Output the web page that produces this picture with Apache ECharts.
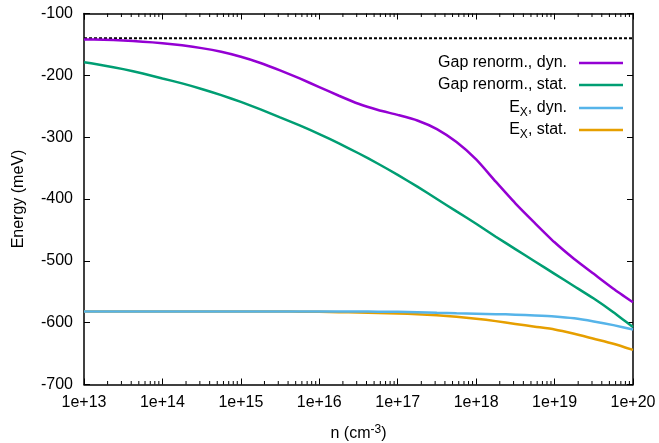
<!DOCTYPE html>
<html>
<head>
<meta charset="utf-8">
<script src="https://cdn.jsdelivr.net/npm/echarts@6/dist/echarts.min.js"></script>
<style>
html,body{margin:0;padding:0;background:#fff;}
#chart{width:659px;height:443px;}
</style>
</head>
<body>
<div id="chart"></div>
<script>
// density n (cm^-3), quarter-decade sampling
const densities = [1e13, 1.78e13, 3.16e13, 5.62e13, 1e14, 1.78e14, 3.16e14, 5.62e14,
  1e15, 1.78e15, 3.16e15, 5.62e15, 1e16, 1.78e16, 3.16e16, 5.62e16,
  1e17, 1.78e17, 3.16e17, 5.62e17, 1e18, 1.78e18, 3.16e18, 5.62e18,
  1e19, 1.78e19, 3.16e19, 5.62e19, 1e20];
const gapDyn = [-142, -142.5, -143.5, -145.5, -148, -151.5, -156, -162,
  -170, -180, -192, -205, -219, -233, -246, -256,
  -264, -273, -287, -308, -336, -372, -407, -439,
  -470, -497, -521, -545, -567];
const gapStat = [-179, -184, -190, -197, -205, -213, -222, -232,
  -243, -255, -268, -281, -295, -310, -326, -343,
  -361, -380, -400, -420, -440, -461, -481, -501,
  -521, -541, -561, -583, -607];
const exDyn = [-582, -582, -582, -582, -582, -582, -582, -582,
  -582, -582, -582, -582, -582, -582, -582, -582.2,
  -582.5, -583, -584, -584.8, -585.5, -586.2, -587, -588.3,
  -590, -593, -598, -604, -611];
const exStat = [-582, -582, -582, -582, -582, -582, -582, -582,
  -582, -582, -582, -582.2, -582.5, -583, -583.5, -584.2,
  -585, -586.3, -588, -590.5, -593.5, -597.5, -602, -606.5,
  -611, -618, -626, -634, -644];
const referenceLevel = -140;
const xTickLabels = ['1e+13', '1e+14', '1e+15', '1e+16', '1e+17', '1e+18', '1e+19', '1e+20'];
const yTicks = [-700, -600, -500, -400, -300, -200, -100];
const minorTickValues = [];
[13,14,15,16,17,18,19].forEach(function(d){
  [2,3,4,5,6,7,8,9].forEach(function(m){ minorTickValues.push(m * Math.pow(10, d)); });
});
const seriesNames = ['Gap renorm., dyn.', 'Gap renorm., stat.', 'E_X, dyn.', 'E_X, stat.'];
const seriesColors = ['#9400d3', '#009e73', '#56b4e9', '#e69f00'];
const seriesValues = [gapDyn, gapStat, exDyn, exStat];

const FONT = 'Liberation Sans, Arial, Helvetica, sans-serif';
const chart = echarts.init(document.getElementById('chart'), null, {renderer: 'canvas'});

function pairs(vals){ return densities.map(function(n, i){ return [n, vals[i]]; }); }

const series = [];
series.push({
  type: 'line', name: 'ref', data: [[densities[0], referenceLevel], [densities[densities.length-1], referenceLevel]],
  symbol: 'none', silent: true, z: 3,
  lineStyle: {color: '#000', width: 2, type: [3, 2]}
});
seriesNames.forEach(function(name, i){
  series.push({
    type: 'line', name: name, data: pairs(seriesValues[i]), symbol: 'none', smooth: 0.2,
    lineStyle: {color: seriesColors[i], width: 2.5}, itemStyle: {color: seriesColors[i]}, z: 4 + (3 - i)
  });
});
series.push({
  type: 'custom', silent: true, z: 10,
  data: minorTickValues.map(function(v){ return [v, -400]; }),
  renderItem: function(params, api){
    const v = api.value(0);
    const pb = api.coord([v, -700]);
    const pt = api.coord([v, -100]);
    return {type: 'group', children: [
      {type: 'line', shape: {x1: pb[0], y1: pb[1], x2: pb[0], y2: pb[1] - 3.5}, style: {stroke: '#000', lineWidth: 1}},
      {type: 'line', shape: {x1: pt[0], y1: pt[1], x2: pt[0], y2: pt[1] + 3.5}, style: {stroke: '#000', lineWidth: 1}}
    ]};
  }
});

const legendTops = [55, 77, 100, 122];
const legends = seriesNames.map(function(name, i){
  return {
    data: [name], right: 36, top: legendTops[i], orient: 'vertical', align: 'right',
    padding: 0, itemWidth: 44, itemHeight: 14, selectedMode: false,
    icon: 'path://M0,6 L44,6 L44,8.5 L0,8.5 Z',
    itemStyle: {color: seriesColors[i]},
    textStyle: {fontFamily: FONT, fontSize: 16, color: '#000', padding: [0, 7, 0, 0],
      rich: {
        sub: {fontFamily: FONT, fontSize: 12, color: '#000', padding: [9, 0, 0, 0]},
        n: {fontFamily: FONT, fontSize: 16, color: '#000'}
      }},
    formatter: function(nm){
      if (nm.indexOf('E_X') === 0) return '{n|E}{sub|X}{n|' + nm.slice(3) + '}';
      return nm;
    }
  };
});

const axisLineStyle = {color: '#000', width: 1.5};
chart.setOption({
  backgroundColor: '#fff',
  animation: false,
  textStyle: {fontFamily: FONT},
  grid: {left: 84, right: 26, top: 13.5, bottom: 58.5, containLabel: false, outerBoundsMode: 'none'},
  legend: legends,
  xAxis: [{
    type: 'log', logBase: 10, min: densities[0], max: densities[densities.length-1], splitNumber: 7,
    name: 'n (cm{sup|-3})', nameLocation: 'middle', nameGap: 39,
    nameTextStyle: {fontFamily: FONT, fontSize: 16, color: '#000',
      rich: {sup: {fontFamily: FONT, fontSize: 12, color: '#000', padding: [0, 0, 9, 0]}}},
    axisLine: {show: true, lineStyle: axisLineStyle},
    axisTick: {show: true, inside: true, length: 6, lineStyle: {color: '#000', width: 1}},
    minorTick: {show: false},
    splitLine: {show: false},
    axisLabel: {fontFamily: FONT, fontSize: 16, color: '#000', margin: 10,
      formatter: function(v){ const k = Math.round(Math.log10(v)) - 13; return xTickLabels[k] || ''; }}
  }, {
    type: 'log', logBase: 10, min: densities[0], max: densities[densities.length-1], splitNumber: 7,
    position: 'top',
    axisLine: {show: true, lineStyle: axisLineStyle},
    axisTick: {show: true, inside: true, length: 6, lineStyle: {color: '#000', width: 1}},
    axisLabel: {show: false}, splitLine: {show: false}
  }],
  yAxis: [{
    type: 'value', min: yTicks[0], max: yTicks[yTicks.length-1], interval: 100,
    name: 'Energy (meV)', nameLocation: 'middle', nameGap: 57,
    nameTextStyle: {fontFamily: FONT, fontSize: 16, color: '#000'},
    axisLine: {show: true, lineStyle: axisLineStyle},
    axisTick: {show: true, inside: true, length: 6, lineStyle: {color: '#000', width: 1}},
    splitLine: {show: false},
    axisLabel: {fontFamily: FONT, fontSize: 16, color: '#000', margin: 11}
  }, {
    type: 'value', min: yTicks[0], max: yTicks[yTicks.length-1], interval: 100, position: 'right',
    axisLine: {show: true, lineStyle: axisLineStyle},
    axisTick: {show: true, inside: true, length: 6, lineStyle: {color: '#000', width: 1}},
    splitLine: {show: false}, axisLabel: {show: false}
  }],
  series: series
});
</script>
</body>
</html>
